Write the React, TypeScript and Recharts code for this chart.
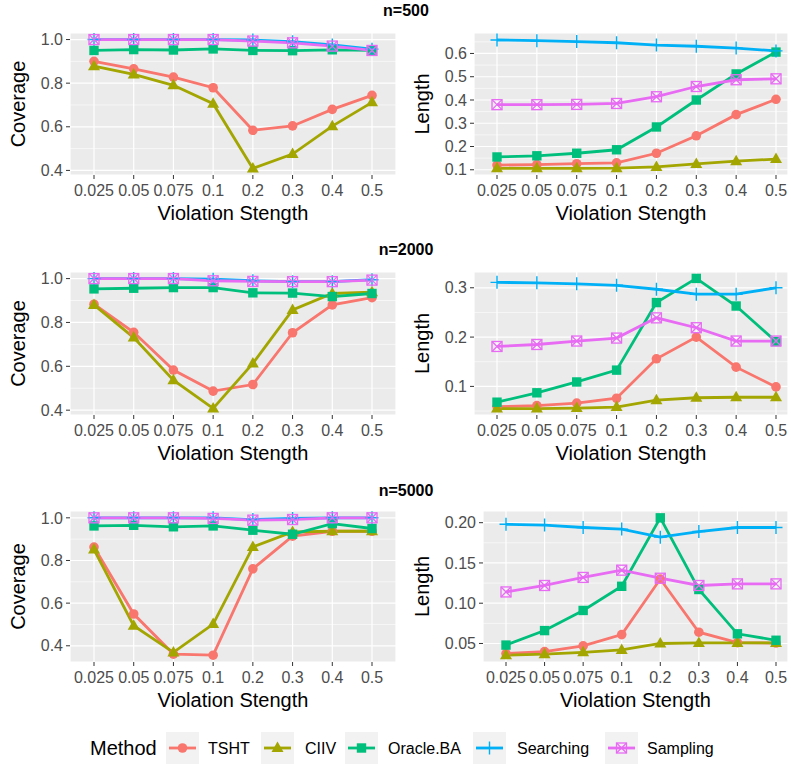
import React from "react";
import { LineChart, Line, XAxis, YAxis, CartesianGrid } from "recharts";

const strengths = ["0.025", "0.05", "0.075", "0.1", "0.2", "0.3", "0.4", "0.5"];
const methods = ["TSHT", "CIIV", "Oracle.BA", "Searching", "Sampling"];
const colors = ["#F8766D", "#A3A500", "#00BF7D", "#00B0F6", "#E76BF3"];

const coverage500 = {
  TSHT: [0.9, 0.866, 0.828, 0.779, 0.584, 0.604, 0.68, 0.744],
  CIIV: [0.878, 0.84, 0.79, 0.706, 0.409, 0.475, 0.603, 0.712],
  "Oracle.BA": [0.95, 0.954, 0.952, 0.957, 0.95, 0.949, 0.953, 0.951],
  Searching: [1.0, 1.0, 1.0, 1.0, 0.998, 0.99, 0.975, 0.956],
  Sampling: [1.0, 1.0, 1.0, 1.0, 0.993, 0.985, 0.97, 0.95],
};
const length500 = {
  TSHT: [0.12, 0.122, 0.126, 0.13, 0.171, 0.246, 0.337, 0.403],
  CIIV: [0.106, 0.106, 0.106, 0.107, 0.112, 0.125, 0.137, 0.146],
  "Oracle.BA": [0.155, 0.16, 0.171, 0.186, 0.284, 0.4, 0.512, 0.606],
  Searching: [0.658, 0.655, 0.651, 0.646, 0.636, 0.631, 0.623, 0.611],
  Sampling: [0.38, 0.38, 0.381, 0.385, 0.414, 0.458, 0.487, 0.491],
};
const coverage2000 = {
  TSHT: [0.883, 0.755, 0.583, 0.487, 0.517, 0.753, 0.88, 0.913],
  CIIV: [0.88, 0.731, 0.537, 0.408, 0.613, 0.857, 0.932, 0.938],
  "Oracle.BA": [0.953, 0.956, 0.959, 0.959, 0.935, 0.934, 0.918, 0.932],
  Searching: [1.0, 1.0, 1.0, 0.997, 0.99, 0.986, 0.986, 0.995],
  Sampling: [1.0, 1.0, 1.0, 0.99, 0.987, 0.986, 0.986, 0.993],
};
const length2000 = {
  TSHT: [0.059, 0.061, 0.066, 0.076, 0.156, 0.2, 0.139, 0.099],
  CIIV: [0.055, 0.055, 0.056, 0.058, 0.072, 0.077, 0.078, 0.078],
  "Oracle.BA": [0.068, 0.087, 0.109, 0.133, 0.27, 0.319, 0.263, 0.191],
  Searching: [0.311, 0.31, 0.308, 0.305, 0.297, 0.287, 0.287, 0.3],
  Sampling: [0.181, 0.185, 0.192, 0.198, 0.239, 0.219, 0.192, 0.192],
};
const coverage5000 = {
  TSHT: [0.863, 0.549, 0.361, 0.356, 0.761, 0.914, 0.937, 0.937],
  CIIV: [0.851, 0.494, 0.369, 0.502, 0.863, 0.934, 0.937, 0.937],
  "Oracle.BA": [0.962, 0.965, 0.958, 0.962, 0.942, 0.923, 0.973, 0.95],
  Searching: [1.0, 1.0, 1.0, 1.0, 0.992, 0.997, 1.0, 1.0],
  Sampling: [1.0, 1.0, 1.0, 0.997, 0.989, 0.992, 1.0, 1.0],
};
const length5000 = {
  TSHT: [0.0375, 0.04, 0.047, 0.061, 0.13, 0.064, 0.051, 0.0505],
  CIIV: [0.0355, 0.0367, 0.039, 0.042, 0.05, 0.0507, 0.0507, 0.0507],
  "Oracle.BA": [0.048, 0.066, 0.091, 0.121, 0.206, 0.117, 0.062, 0.054],
  Searching: [0.198, 0.197, 0.194, 0.192, 0.182, 0.189, 0.194, 0.194],
  Sampling: [0.114, 0.122, 0.132, 0.141, 0.131, 0.122, 0.124, 0.124],
};

const coverageTicks = [0.4, 0.6, 0.8, 1.0];
const coverageMinor = [0.5, 0.7, 0.9];
const length500Ticks = [0.1, 0.2, 0.3, 0.4, 0.5, 0.6];
const length500Minor = [0.15, 0.25, 0.35, 0.45, 0.55, 0.65];
const length2000Ticks = [0.1, 0.2, 0.3];
const length2000Minor = [0.05, 0.15, 0.25];
const length5000Ticks = [0.05, 0.1, 0.15, 0.2];
const length5000Minor = [0.075, 0.125, 0.175];

const FONT = "'Liberation Sans', Arial, Helvetica, sans-serif";

const Marker = ({ i, cx, cy, color }: { i: number; cx: number; cy: number; color: string }) => {
  if (i === 0) return <circle cx={cx} cy={cy} r={4.8} fill={color} />;
  if (i === 1)
    return <polygon points={`${cx},${cy - 6.5} ${cx - 6},${cy + 4} ${cx + 6},${cy + 4}`} fill={color} />;
  if (i === 2) return <rect x={cx - 4.7} y={cy - 4.7} width={9.4} height={9.4} fill={color} />;
  if (i === 3)
    return (
      <path d={`M${cx - 6.5},${cy}H${cx + 6.5}M${cx},${cy - 6.5}V${cy + 6.5}`} stroke={color} strokeWidth={1.4} fill="none" />
    );
  return (
    <g>
      <rect x={cx - 5} y={cy - 5} width={10} height={10} fill="none" stroke={color} strokeWidth={1.3} />
      <path d={`M${cx - 5},${cy - 5}L${cx + 5},${cy + 5}M${cx + 5},${cy - 5}L${cx - 5},${cy + 5}`} stroke={color} strokeWidth={1.3} />
    </g>
  );
};

type PanelProps = {
  values: Record<string, number[]>;
  chartLeft: number;
  plotLeft: number;
  plotRight: number;
  top: number;
  bottom: number;
  padL: number;
  padR: number;
  domain: [number, number];
  ticks: number[];
  minor: number[];
  digits: number;
  yLabel: string;
  labelOffset: number;
};

const Panel = (p: PanelProps) => {
  const mt = 8;
  const xh = 50;
  const rows = strengths.map((s, i) => {
    const r: Record<string, string | number> = { s };
    methods.forEach((m) => (r[m] = p.values[m][i]));
    return r;
  });
  return (
    <div style={{ position: "absolute", left: p.chartLeft, top: p.top - mt }}>
      <LineChart
        width={p.plotRight - p.chartLeft}
        height={mt + (p.bottom - p.top) + xh}
        data={rows}
        margin={{ top: mt, right: 0, left: 0, bottom: 0 }}
        style={{ fontFamily: FONT }}
      >
        <CartesianGrid horizontalValues={p.minor} vertical={false} stroke="#FFFFFF" strokeWidth={0.6} fill="#EBEBEB" />
        <CartesianGrid stroke="#FFFFFF" strokeWidth={1.2} />
        <XAxis
          dataKey="s"
          type="category"
          interval={0}
          padding={{ left: p.padL, right: p.padR }}
          axisLine={false}
          tickSize={4}
          tickMargin={6}
          tickLine={{ stroke: "#333333" }}
          tick={{ fill: "#4D4D4D", fontSize: 16 }}
          height={xh}
          label={{ value: "Violation Stength", position: "insideBottom", offset: 5, fill: "#000000", fontSize: 20 }}
        />
        <YAxis
          type="number"
          domain={p.domain}
          allowDataOverflow
          ticks={p.ticks}
          width={p.plotLeft - p.chartLeft}
          axisLine={false}
          tickSize={4}
          tickMargin={3}
          tickLine={{ stroke: "#333333" }}
          tick={{ fill: "#4D4D4D", fontSize: 16 }}
          tickFormatter={(v: number) => v.toFixed(p.digits)}
          label={{
            value: p.yLabel,
            angle: -90,
            position: "insideLeft",
            offset: p.labelOffset,
            fill: "#000000",
            fontSize: 20,
            style: { textAnchor: "middle" },
          }}
        />
        {methods.map((m, i) => (
          <Line
            key={m}
            dataKey={m}
            stroke={colors[i]}
            strokeWidth={2.8}
            isAnimationActive={false}
            activeDot={false}
            dot={(d: any) => <Marker key={`${m}-${d.index}`} i={i} cx={d.cx} cy={d.cy} color={colors[i]} />}
          />
        ))}
      </LineChart>
    </div>
  );
};

const legendKeys = [166, 261, 345, 473, 605];
const legendTexts = [208, 305, 388, 517, 647];

export default function App() {
  const leftGeo = { chartLeft: 0, plotLeft: 70, plotRight: 396, padL: 24, padR: 24, labelOffset: 18 };
  const rightGeo = { chartLeft: 400, plotLeft: 474, plotRight: 788, padL: 23, padR: 12, labelOffset: 22 };
  return (
    <div style={{ position: "absolute", left: 0, top: 0, width: 791, height: 764, background: "#FFFFFF", fontFamily: FONT }}>
      <svg width={791} height={764} style={{ position: "absolute", left: 0, top: 0 }}>
        <text x={406} y={16} textAnchor="middle" fontWeight="bold" fontSize={16} fill="#000" fontFamily={FONT}>n=500</text>
        <text x={406} y={255} textAnchor="middle" fontWeight="bold" fontSize={16} fill="#000" fontFamily={FONT}>n=2000</text>
        <text x={406} y={496} textAnchor="middle" fontWeight="bold" fontSize={16} fill="#000" fontFamily={FONT}>n=5000</text>
        <text x={90} y={755} fontSize={20} fill="#000" fontFamily={FONT}>Method</text>
        {methods.map((m, i) => (
          <g key={m}>
            <rect x={legendKeys[i]} y={732} width={33} height={32} fill="#F2F2F2" />
            <line x1={legendKeys[i] + 3} x2={legendKeys[i] + 30} y1={748} y2={748} stroke={colors[i]} strokeWidth={2.8} />
            <Marker i={i} cx={legendKeys[i] + 16.5} cy={748} color={colors[i]} />
            <text x={legendTexts[i]} y={754} fontSize={16} fill="#000" fontFamily={FONT}>{m}</text>
          </g>
        ))}
      </svg>
      <Panel values={coverage500} {...leftGeo} top={33} bottom={175} domain={[0.379, 1.03]} ticks={coverageTicks} minor={coverageMinor} digits={1} yLabel="Coverage" />
      <Panel values={length500} {...rightGeo} top={33} bottom={175} domain={[0.0775, 0.688]} ticks={length500Ticks} minor={length500Minor} digits={1} yLabel="Length" />
      <Panel values={coverage2000} {...leftGeo} top={272} bottom={415} domain={[0.378, 1.03]} ticks={coverageTicks} minor={coverageMinor} digits={1} yLabel="Coverage" />
      <Panel values={length2000} {...rightGeo} top={272} bottom={415} domain={[0.042, 0.332]} ticks={length2000Ticks} minor={length2000Minor} digits={1} yLabel="Length" />
      <Panel values={coverage5000} {...leftGeo} top={511} bottom={662} domain={[0.324, 1.032]} ticks={coverageTicks} minor={coverageMinor} digits={1} yLabel="Coverage" />
      <Panel values={length5000} {...rightGeo} plotLeft={483} top={511} bottom={662} domain={[0.027, 0.2145]} ticks={length5000Ticks} minor={length5000Minor} digits={2} yLabel="Length" />
    </div>
  );
}
